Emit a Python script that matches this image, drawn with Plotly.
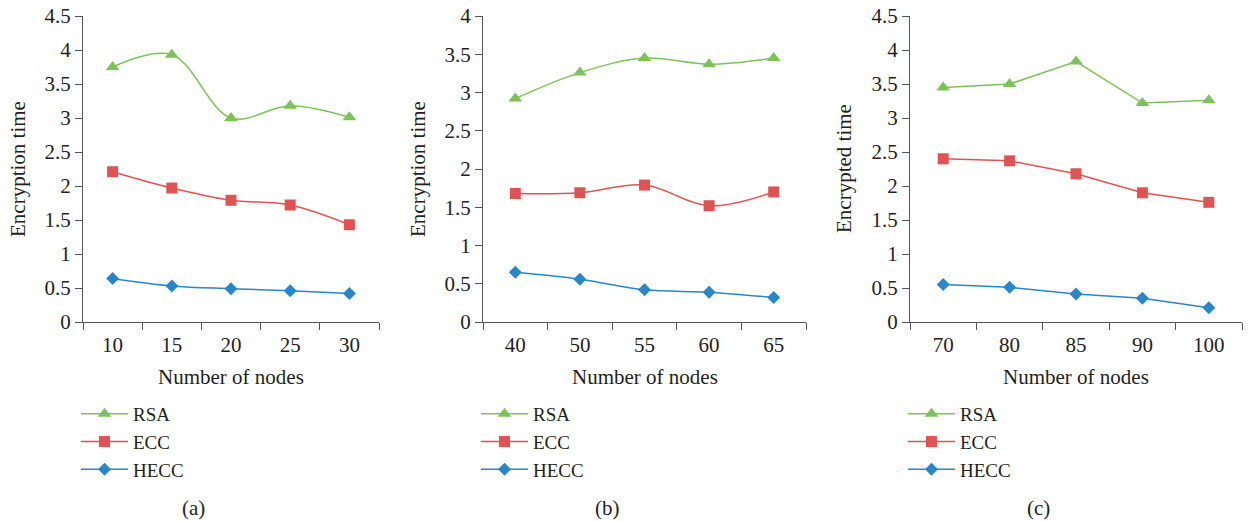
import plotly.graph_objects as go

# ---------------- data ----------------
nodes_a = ["10", "15", "20", "25", "30"]
rsa_a = [3.75, 3.93, 3.00, 3.18, 3.01]
ecc_a = [2.21, 1.97, 1.79, 1.72, 1.43]
hecc_a = [0.64, 0.53, 0.49, 0.46, 0.42]

nodes_b = ["40", "50", "55", "60", "65"]
rsa_b = [2.92, 3.26, 3.45, 3.37, 3.45]
ecc_b = [1.68, 1.69, 1.79, 1.52, 1.70]
hecc_b = [0.65, 0.56, 0.42, 0.39, 0.32]

nodes_c = ["70", "80", "85", "90", "100"]
rsa_c = [3.45, 3.50, 3.83, 3.22, 3.26]
ecc_c = [2.40, 2.37, 2.18, 1.90, 1.76]
hecc_c = [0.55, 0.51, 0.41, 0.35, 0.21]

series_names = ["RSA", "ECC", "HECC"]
panel_labels = ["(a)", "(b)", "(c)"]
y_titles = ["Encryption time", "Encryption time", "Encrypted time"]
x_title = "Number of nodes"
y_max = [4.5, 4.0, 4.5]

# ---------------- style ----------------
W, H = 1248, 522
FONT = "Liberation Serif"
TXT = "#231f20"
AXC = "#555555"
COLORS = ["#7dc15a", "#e05353", "#2987c9"]
SYMBOLS = ["triangle-up", "square", "diamond"]
MSIZE = [12, 11, 10]
FS = 21

# plot area pixel boxes (left, right)
px_x = [(83, 379), (483, 806), (910, 1242)]
px_top, px_bot = 16, 322

def fx(p):
    return p / W

def fy(p):
    return 1 - p / H

panels = [
    (nodes_a, [rsa_a, ecc_a, hecc_a], "spline"),
    (nodes_b, [rsa_b, ecc_b, hecc_b], "spline"),
    (nodes_c, [rsa_c, ecc_c, hecc_c], "linear"),
]

fig = go.Figure()
annotations = []
for i, (cats, vals, shape) in enumerate(panels):
    sfx = "" if i == 0 else str(i + 1)
    leg = "legend" + sfx
    for j, name in enumerate(series_names):
        fig.add_trace(go.Scatter(
            x=cats, y=vals[j], name=name, mode="lines+markers",
            line=dict(color=COLORS[j], width=1.5, shape=shape, smoothing=1),
            marker=dict(color=COLORS[j], symbol=SYMBOLS[j], size=MSIZE[j]),
            xaxis="x" + sfx, yaxis="y" + sfx, legend=leg,
            legendgroup=f"{i}-{j}",
        ))
    l, r = px_x[i]
    fig.update_layout(**{
        "xaxis" + sfx: dict(
            domain=[fx(l), fx(r)], anchor="y" + sfx, type="category",
            tickson="boundaries", ticks="outside", ticklen=7, tickcolor=AXC,
            showline=True, linecolor=AXC, linewidth=1, showgrid=False,
            zeroline=False, range=[-0.5, 4.5], automargin=False,
            ticklabelstandoff=4,
            tickfont=dict(family=FONT, size=FS, color=TXT),
        ),
        "yaxis" + sfx: dict(
            domain=[fy(px_bot), fy(px_top)], anchor="x" + sfx,
            range=[0, y_max[i]], dtick=0.5, ticks="outside", ticklen=7,
            tickcolor=AXC, showline=True, linecolor=AXC, linewidth=1,
            showgrid=False, zeroline=False, tickformat="~g", automargin=False,
            tickfont=dict(family=FONT, size=FS, color=TXT),
        ),
        leg: dict(
            x=fx(l - 7), xanchor="left", y=fy(395), yanchor="top",
            font=dict(family=FONT, size=19, color=TXT),
            bgcolor="rgba(0,0,0,0)", traceorder="grouped",
            tracegroupgap=0, itemwidth=47,
        ),
    })
    # axis titles
    annotations.append(dict(
        text=x_title, x=fx((l + r) / 2), y=fy(377), xref="paper", yref="paper",
        xanchor="center", yanchor="middle", showarrow=False,
        font=dict(family=FONT, size=FS, color=TXT)))
    annotations.append(dict(
        text=y_titles[i], x=fx([18, 418, 844][i]), y=fy(169), xref="paper",
        yref="paper", xanchor="center", yanchor="middle", textangle=-90,
        showarrow=False, font=dict(family=FONT, size=FS, color=TXT)))
    annotations.append(dict(
        text=panel_labels[i], x=fx([193, 607, 1038][i]), y=fy(508),
        xref="paper", yref="paper", xanchor="center", yanchor="middle",
        showarrow=False, font=dict(family=FONT, size=FS, color=TXT)))

fig.update_layout(
    width=W, height=H, margin=dict(l=0, r=0, t=0, b=0, autoexpand=False),
    paper_bgcolor="white", plot_bgcolor="white",
    annotations=annotations, showlegend=True,
)
fig.write_html(
    "out.html",
    config={"displayModeBar": False},
    post_script="document.body.style.margin='0';document.body.style.overflow='hidden';",
)
